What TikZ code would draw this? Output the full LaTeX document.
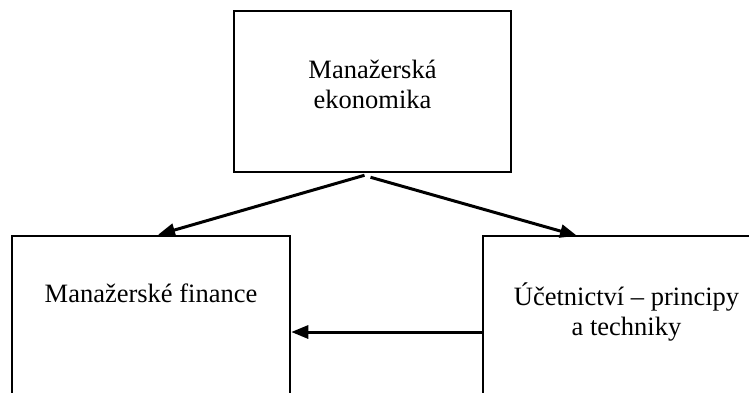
\documentclass[tikz,border=0pt]{standalone}
\usepackage{fontspec}
\setmainfont{Liberation Serif}
\usetikzlibrary{arrows.meta,positioning}
\begin{document}
\begin{tikzpicture}[x=1pt,y=-1pt,
    box/.style={draw,line width=2.5pt,inner sep=0pt},
    txt/.style={font=\fontsize{26.5}{30.5}\selectfont,align=center,inner sep=0pt},
    link/.style={line width=3pt,-{Triangle[length=17pt,width=13pt]}}]
  \useasboundingbox (0,0) rectangle (749,392);
  \clip (0,0) rectangle (749,392);

  \node[box,minimum width=277pt,minimum height=161pt] (econ) at (372.5,91.5) {};
  \node[box,minimum width=278pt,minimum height=200pt] (fin) at (151,336) {};
  \node[box,minimum width=297pt,minimum height=200pt] (acct) at (631.5,336) {};

  \node[txt] (econtext) at ([yshift=7pt]econ.center) {Manažerská\\ekonomika};
  \node[txt] (fintext) at ([yshift=-59pt]fin.north) {Manažerské finance};
  \node[txt] (accttext) at ([yshift=-77pt,xshift=-5pt]acct.north) {Účetnictví – principy\\a techniky};

  \draw[link] ([xshift=-8pt,yshift=-2pt]econ.south) -- ([xshift=7pt]fin.north);
  \draw[link] ([xshift=-2pt,yshift=-4pt]econ.south) -- ([xshift=-54.5pt,yshift=-1pt]acct.north);
  \draw[link] ([yshift=4pt]acct.west) -- ([yshift=4pt]fin.east);
\end{tikzpicture}
\end{document}
